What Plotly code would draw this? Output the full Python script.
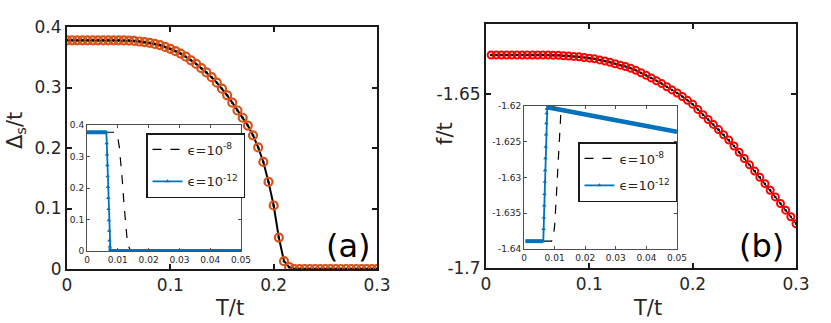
import plotly.graph_objects as go

# ---- data ----
T_a = [0.0, 0.005, 0.01, 0.015, 0.02, 0.025, 0.03, 0.035, 0.04, 0.045, 0.05,
       0.055, 0.06, 0.065, 0.07, 0.075, 0.08, 0.085, 0.09, 0.095, 0.1,
       0.105, 0.11, 0.115, 0.12, 0.125, 0.13, 0.135, 0.14, 0.145, 0.15,
       0.155, 0.16, 0.165, 0.17, 0.175, 0.18, 0.185, 0.19, 0.195, 0.2,
       0.205, 0.21, 0.215, 0.22, 0.225, 0.23, 0.235, 0.24, 0.245, 0.25,
       0.255, 0.26, 0.265, 0.27, 0.275, 0.28, 0.285, 0.29, 0.295, 0.3]
delta_s = [0.378, 0.378, 0.378, 0.378, 0.378, 0.378, 0.378, 0.378, 0.378, 0.378, 0.378,
           0.3778, 0.3775, 0.377, 0.376, 0.375, 0.3737, 0.372, 0.370, 0.367, 0.364,
           0.360, 0.356, 0.351, 0.345, 0.339, 0.332, 0.325, 0.317, 0.308, 0.298,
           0.287, 0.275, 0.262, 0.250, 0.237, 0.221, 0.201, 0.177, 0.144, 0.105,
           0.052, 0.013, 0.003, 0, 0, 0, 0, 0, 0, 0,
           0, 0, 0, 0, 0, 0, 0, 0, 0, 0]

T_b = [0.005, 0.01, 0.015, 0.02, 0.025, 0.03, 0.035, 0.04, 0.045, 0.05,
       0.055, 0.06, 0.065, 0.07, 0.075, 0.08, 0.085, 0.09, 0.095, 0.1,
       0.105, 0.11, 0.115, 0.12, 0.125, 0.13, 0.135, 0.14, 0.145, 0.15,
       0.155, 0.16, 0.165, 0.17, 0.175, 0.18, 0.185, 0.19, 0.195, 0.2,
       0.205, 0.21, 0.215, 0.22, 0.225, 0.23, 0.235, 0.24, 0.245, 0.25,
       0.255, 0.26, 0.265, 0.27, 0.275, 0.28, 0.285, 0.29, 0.295, 0.3]
free_f = [-1.6389, -1.6389, -1.6389, -1.6389, -1.6389, -1.6389, -1.6389, -1.6389, -1.6389, -1.6389,
          -1.6389, -1.6389, -1.6390, -1.6390, -1.6391, -1.6392, -1.6393, -1.6394, -1.6396, -1.6398,
          -1.6400, -1.6403, -1.6406, -1.6410, -1.6414, -1.6418, -1.6422, -1.6427, -1.6433, -1.6440,
          -1.6447, -1.6455, -1.6463, -1.6471, -1.6480, -1.6489, -1.6498, -1.6508, -1.6519, -1.6530,
          -1.6545, -1.6560, -1.6574, -1.6588, -1.6603, -1.6618, -1.6633, -1.6650, -1.6668, -1.6686,
          -1.6704, -1.6722, -1.6740, -1.6758, -1.6777, -1.6796, -1.6815, -1.6834, -1.6853, -1.6873]

# inset (a): gap vs T at low T
ins_a_eps8_T = [0, 0.009, 0.0095, 0.010, 0.0105, 0.011, 0.0115, 0.012, 0.0125, 0.013, 0.0135, 0.014, 0.0145, 0.05]
ins_a_eps8_D = [0.377, 0.377, 0.374, 0.36, 0.33, 0.28, 0.22, 0.15, 0.085, 0.04, 0.015, 0.004, 0, 0]
ins_a_eps12_top_T = [0, 0.0063]
ins_a_eps12_top_D = [0.377, 0.377]
ins_a_eps12_drop_T = [0.0063, 0.0064, 0.0065, 0.0066, 0.0067, 0.0068, 0.0069, 0.0070, 0.0071, 0.0072,
                      0.0073, 0.0074, 0.0075, 0.0076, 0.0077, 0.0078, 0.0079, 0.0080, 0.0081, 0.0082]
ins_a_eps12_drop_D = [0.377, 0.342, 0.306, 0.272, 0.237, 0.203, 0.168, 0.133, 0.098, 0.064,
                      0.033, 0.014, 0.006, 0.002, 0.001, 0, 0, 0, 0, 0]
ins_a_eps12_bot_T = [0.0077, 0.05]
ins_a_eps12_bot_D = [0, 0]

# inset (b): free energy vs T at low T
ins_b_eps8_T = [0.0005, 0.009, 0.0095, 0.010, 0.0105, 0.011, 0.0115, 0.012, 0.0125, 0.05]
ins_b_eps8_F = [-1.6389, -1.6389, -1.6386, -1.6368, -1.6332, -1.6285, -1.6240, -1.6213, -1.6205, -1.6236]
ins_b_eps12_bot_T = [0.0005, 0.0063]
ins_b_eps12_bot_F = [-1.6389, -1.6389]
ins_b_eps12_rise_T = [0.0063, 0.0064, 0.0065, 0.0066, 0.0067, 0.0068, 0.0069, 0.0070, 0.0071, 0.0072,
                      0.0073, 0.0074, 0.0075, 0.0076]
ins_b_eps12_rise_F = [-1.6389, -1.6372, -1.6356, -1.6339, -1.6323, -1.6306, -1.6290, -1.6273, -1.6257, -1.6240,
                      -1.6224, -1.6210, -1.6204, -1.6203]
ins_b_eps12_top_T = [0.0076, 0.008, 0.05]
ins_b_eps12_top_F = [-1.6203, -1.6202, -1.6236]

W, H = 831, 323
ORANGE = "#D95319"
RED = "#FF0000"
BLUE = "#0072BD"
INK = "#262626"
FONT = "DejaVu Sans"

def px_x(a, b):
    return [a / W, b / W]

def px_y(top, bot):
    return [(H - bot) / H, (H - top) / H]

fig = go.Figure()

# main (a)
fig.add_trace(go.Scatter(x=T_a, y=delta_s, mode="lines+markers", showlegend=False,
                         line=dict(color="black", width=2),
                         marker=dict(symbol="circle-open", size=8, color=ORANGE, line=dict(width=2.2)),
                         xaxis="x", yaxis="y"))
fig.add_trace(go.Scatter(x=T_a, y=delta_s, mode="markers", showlegend=False,
                         marker=dict(size=2.5, color="black"), xaxis="x", yaxis="y"))

# main (b)
fig.add_trace(go.Scatter(x=T_b, y=free_f, mode="lines+markers", showlegend=False,
                         line=dict(color="black", width=1.2),
                         marker=dict(symbol="circle-open", size=7, color=RED, line=dict(width=2)),
                         xaxis="x2", yaxis="y2"))
fig.add_trace(go.Scatter(x=T_b, y=free_f, mode="markers", showlegend=False,
                         marker=dict(size=2.5, color="black"), xaxis="x2", yaxis="y2"))

# inset (a)
fig.add_trace(go.Scatter(x=ins_a_eps8_T, y=ins_a_eps8_D, mode="lines", name="ϵ=10<sup>-8</sup>",
                         line=dict(color="black", width=1.2, dash="dash"),
                         legend="legend", legendgroup="a8", xaxis="x3", yaxis="y3"))
fig.add_trace(go.Scatter(x=ins_a_eps12_top_T, y=ins_a_eps12_top_D, mode="lines", showlegend=False,
                         line=dict(color=BLUE, width=4), xaxis="x3", yaxis="y3"))
fig.add_trace(go.Scatter(x=ins_a_eps12_bot_T, y=ins_a_eps12_bot_D, mode="lines", showlegend=False,
                         line=dict(color=BLUE, width=4), xaxis="x3", yaxis="y3"))
fig.add_trace(go.Scatter(x=ins_a_eps12_drop_T, y=ins_a_eps12_drop_D, mode="lines+markers",
                         name="ϵ=10<sup>-12</sup>",
                         line=dict(color=BLUE, width=1.8),
                         marker=dict(symbol="triangle-up", size=4, color=BLUE),
                         legend="legend", legendgroup="a12", xaxis="x3", yaxis="y3"))

# inset (b)
fig.add_trace(go.Scatter(x=ins_b_eps8_T, y=ins_b_eps8_F, mode="lines", name="ϵ=10<sup>-8</sup>",
                         line=dict(color="black", width=1.2, dash="dash"),
                         legend="legend2", legendgroup="b8", xaxis="x4", yaxis="y4"))
fig.add_trace(go.Scatter(x=ins_b_eps12_bot_T, y=ins_b_eps12_bot_F, mode="lines", showlegend=False,
                         line=dict(color=BLUE, width=4), xaxis="x4", yaxis="y4"))
fig.add_trace(go.Scatter(x=ins_b_eps12_top_T, y=ins_b_eps12_top_F, mode="lines", showlegend=False,
                         line=dict(color=BLUE, width=4.5), xaxis="x4", yaxis="y4"))
fig.add_trace(go.Scatter(x=ins_b_eps12_rise_T, y=ins_b_eps12_rise_F, mode="lines+markers",
                         name="ϵ=10<sup>-12</sup>",
                         line=dict(color=BLUE, width=1.8),
                         marker=dict(symbol="triangle-up", size=4, color=BLUE),
                         legend="legend2", legendgroup="b12", xaxis="x4", yaxis="y4"))

main_ax = dict(showgrid=False, zeroline=False, showline=True, mirror="ticks", linecolor="#1a1a1a",
               linewidth=2, ticks="inside", ticklen=5, tickwidth=1.5, tickcolor="#1a1a1a",
               automargin=False, tickfont=dict(family=FONT, size=17, color=INK))
ins_ax = dict(showgrid=False, zeroline=False, showline=True, mirror="ticks", linecolor="#4d4d4d",
              linewidth=1, ticks="inside", ticklen=3, tickwidth=1, tickcolor="#4d4d4d",
              automargin=False, tickfont=dict(family=FONT, size=9, color=INK))

legend_common = dict(xanchor="left", yanchor="top", bgcolor="white", bordercolor="#1a1a1a",
                     borderwidth=1.5, itemwidth=30, font=dict(family=FONT, size=13, color=INK))

fig.update_layout(
    width=W, height=H, margin=dict(l=0, r=0, t=0, b=0),
    paper_bgcolor="white", plot_bgcolor="white",
    xaxis=dict(main_ax, domain=px_x(67, 377), range=[0, 0.3], tickvals=[0, 0.1, 0.2, 0.3], anchor="y"),
    yaxis=dict(main_ax, domain=px_y(27, 269), range=[0, 0.4], tickvals=[0, 0.1, 0.2, 0.3, 0.4], anchor="x"),
    xaxis2=dict(main_ax, domain=px_x(486, 796), range=[0, 0.3], tickvals=[0, 0.1, 0.2, 0.3], anchor="y2"),
    yaxis2=dict(main_ax, domain=px_y(24, 268), range=[-1.7, -1.63],
                tickvals=[-1.7, -1.65], ticktext=["-1.7", "-1.65"], anchor="x2"),
    xaxis3=dict(ins_ax, domain=px_x(87, 241), range=[0, 0.05],
                tickvals=[0, 0.01, 0.02, 0.03, 0.04, 0.05], anchor="y3"),
    yaxis3=dict(ins_ax, domain=px_y(125, 251), range=[0, 0.4],
                tickvals=[0, 0.1, 0.2, 0.3, 0.4], anchor="x3"),
    xaxis4=dict(ins_ax, domain=px_x(524, 677), range=[0, 0.05],
                tickvals=[0, 0.01, 0.02, 0.03, 0.04, 0.05], anchor="y4"),
    yaxis4=dict(ins_ax, domain=px_y(106, 249), range=[-1.64, -1.62],
                tickvals=[-1.64, -1.635, -1.63, -1.625, -1.62],
                ticktext=["-1.64", "-1.635", "-1.63", "-1.625", "-1.62"], anchor="x4"),
    legend=dict(legend_common, x=146 / W, y=(H - 133) / H, tracegroupgap=12),
    legend2=dict(legend_common, x=578 / W, y=(H - 142) / H, tracegroupgap=7),
)

ann_font = dict(family=FONT, size=21, color=INK)
labels = [
    (16, 131, "Δ<sub>s</sub>/t", -90, ann_font),
    (445, 134, "f/t", -90, ann_font),
    (229, 308, "T/t", 0, ann_font),
    (647, 308, "T/t", 0, ann_font),
    (348, 246, "(a)", 0, dict(family=FONT, size=32, color="black")),
    (761, 246, "(b)", 0, dict(family=FONT, size=32, color="black")),
]
for px, py, txt, ang, fnt in labels:
    fig.add_annotation(x=px / W, y=(H - py) / H, xref="paper", yref="paper", text=txt,
                       textangle=ang, showarrow=False, xanchor="center", yanchor="middle", font=fnt)

# page body has a default 8px margin; drop it so the figure sits at the window origin
fig.write_html("out.html", config={"displayModeBar": False},
               post_script="document.body.style.margin='0';")
